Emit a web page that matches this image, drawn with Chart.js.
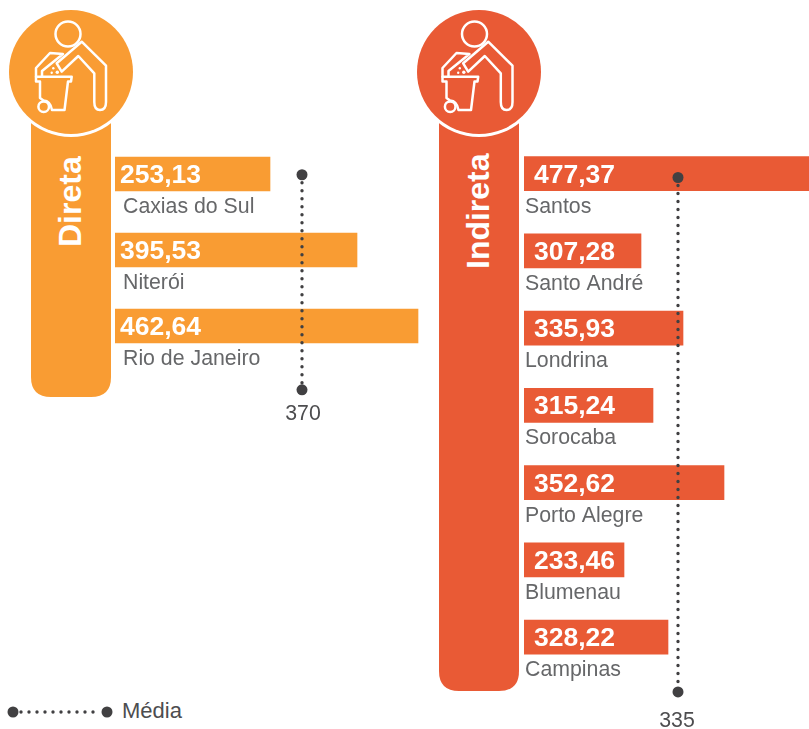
<!DOCTYPE html>
<html lang="pt">
<head>
<meta charset="utf-8">
<title>Média por cidade</title>
<script src="https://cdn.jsdelivr.net/npm/chart.js@4.4.0/dist/chart.umd.min.js"></script>
<style>
    html, body { margin: 0; padding: 0; background: #fff; overflow: hidden; }
    body { width: 809px; height: 729px; position: relative; font-family: "Liberation Sans", sans-serif; }
    .chart { position: absolute; }
    svg#fundo { position: absolute; left: 0; top: 0; }
</style>
</head>
<body>
<svg id="fundo" width="809" height="729" viewBox="0 0 809 729">
    <defs>
        <g id="icone" fill="none" stroke="#fff" stroke-width="2.5" stroke-linejoin="round" stroke-linecap="round">
            <circle cx="68" cy="34" r="12.5"/>
            <path d="M81.7 41.7 L106 65.7 V102 Q106 110 100 110 Q94.3 110 94.3 102 V73.3 L78.3 56 L61.7 71.7 L56.7 63.3 Z"/>
            <path d="M36 76.7 V68 L50 53 L63 54 L42 71 V76.7"/>
            <path d="M36 76.7 H71.7 L71 81.5 H68 L64.5 110 H52 Q50.5 101 43.5 100.5 L40 98 V81.5 H36 Z"/>
            <circle cx="43.7" cy="106.7" r="5.3"/>
            <g fill="#fff" stroke="none">
                <circle cx="53.3" cy="68.3" r="1.2"/>
                <circle cx="51.7" cy="72.7" r="1.2"/>
                <circle cx="57.3" cy="72.3" r="1.7"/>
            </g>
        </g>
    </defs>
    <path d="M31 120 H111 V377 Q111 397 91 397 H51 Q31 397 31 377 Z" fill="#f99c33"/>
    <circle cx="71" cy="72" r="65" fill="#fff"/>
    <circle cx="71" cy="72" r="62" fill="#f99c33"/>
    <use href="#icone"/>
    <text transform="translate(81 247) rotate(-90)" fill="#fff" font-size="32" font-weight="bold">Direta</text>

    <path d="M439 120 H519 V671 Q519 691 499 691 H459 Q439 691 439 671 Z" fill="#e95a35"/>
    <circle cx="479" cy="72" r="65" fill="#fff"/>
    <circle cx="479" cy="72" r="62" fill="#e95a35"/>
    <use href="#icone" x="406.5"/>
    <text transform="translate(489 269) rotate(-90)" fill="#fff" font-size="32" font-weight="bold">Indireta</text>

    <circle cx="13" cy="712" r="5.5" fill="#414042"/>
    <line x1="21" y1="712" x2="100" y2="712" stroke="#414042" stroke-width="3.4" stroke-linecap="round" stroke-dasharray="0 8"/>
    <circle cx="107" cy="712" r="5.5" fill="#414042"/>
    <text x="122" y="718" fill="#4d4d4f" font-size="22">Média</text>
</svg>
<div class="chart" style="left:115px;top:136px;width:320px;height:304px"><canvas id="chartDireta"></canvas></div>
<div class="chart" style="left:524px;top:135px;width:285px;height:618px"><canvas id="chartIndireta"></canvas></div>
<script>
// Rótulos e valores impressos na figura
const cidadesDireta = ['Caxias do Sul', 'Niterói', 'Rio de Janeiro'];
const rotulosDireta = ['253,13', '395,53', '462,64'];
const cidadesIndireta = ['Santos', 'Santo André', 'Londrina', 'Sorocaba', 'Porto Alegre', 'Blumenau', 'Campinas'];
const rotulosIndireta = ['477,37', '307,28', '335,93', '315,24', '352,62', '233,46', '328,22'];

// A figura não desenha as barras proporcionais aos rótulos,
// então estes são os comprimentos lidos da própria figura
const barrasDireta = [155, 242, 303];
const barrasIndireta = [285, 117, 159, 129, 200, 100, 144];

const mediaDireta = 187;
const mediaIndireta = 154;
const rotuloMediaDireta = '370';
const rotuloMediaIndireta = '335';
// início e fim da linha pontilhada, em linhas do eixo de categorias
const linhaMediaDireta = [0.01, 2.84];
const linhaMediaIndireta = [0.05, 6.71];

const corTexto = '#666769';
const corMedia = '#414042';

const rotulosPlugin = {
    id: 'rotulos',
    afterDatasetsDraw(chart, args, opts) {
        const ctx = chart.ctx;
        const barras = chart.getDatasetMeta(0).data;
        ctx.save();
        ctx.textBaseline = 'alphabetic';
        opts.cidades.forEach((cidade, i) => {
            const barra = barras[i];
            ctx.textAlign = 'left';
            ctx.fillStyle = '#fff';
            ctx.font = 'bold 26.5px "Liberation Sans"';
            ctx.fillText(opts.valores[i], barra.base + opts.recuoValor, barra.y + 9);
            ctx.fillStyle = corTexto;
            ctx.font = '21.3px "Liberation Sans"';
            ctx.fillText(cidade, barra.base + opts.recuoCidade, barra.y + 39);
        });
        // rótulo da média, abaixo do último ponto
        const pontos = chart.getDatasetMeta(1).data;
        const fim = pontos[pontos.length - 1];
        ctx.textAlign = 'center';
        ctx.fillStyle = '#4d4d4f';
        ctx.fillText(opts.media, fim.x + opts.ajusteMedia[0], fim.y + opts.ajusteMedia[1]);
        ctx.restore();
    }
};

function criarGrafico(id, cidades, valores, barras, media, linhaMedia, rotuloMedia, cor, maximo, recuos, ajusteMedia) {
    return new Chart(document.getElementById(id), {
        data: {
            // categoria vazia no fim para a linha da média caber na área do gráfico
            labels: [...cidades, ''],
            datasets: [
                {
                    type: 'bar',
                    data: barras,
                    backgroundColor: cor,
                    barThickness: 34,
                    grouped: false,
                    xAxisID: 'x',
                    yAxisID: 'y',
                    order: 2
                },
                {
                    type: 'scatter',
                    indexAxis: 'x',
                    data: linhaMedia.map(linha => ({ x: media, y: linha })),
                    showLine: true,
                    borderColor: corMedia,
                    borderWidth: 3.4,
                    borderDash: [0, 8],
                    borderCapStyle: 'round',
                    pointRadius: 5.5,
                    pointBackgroundColor: corMedia,
                    pointBorderWidth: 0,
                    xAxisID: 'x',
                    yAxisID: 'yMedia',
                    order: 1
                }
            ]
        },
        plugins: [rotulosPlugin],
        options: {
            indexAxis: 'y',
            responsive: true,
            maintainAspectRatio: false,
            animation: false,
            layout: { autoPadding: false, padding: 0 },
            plugins: {
                legend: { display: false },
                tooltip: { enabled: false },
                rotulos: { cidades: cidades, valores: valores, media: rotuloMedia, recuoValor: recuos[0], recuoCidade: recuos[1], ajusteMedia: ajusteMedia }
            },
            scales: {
                x: { type: 'linear', min: 0, max: maximo, display: false },
                y: { type: 'category', offset: true, display: false },
                yMedia: { type: 'linear', min: -0.5, max: cidades.length + 0.5, reverse: true, display: false }
            }
        }
    });
}

criarGrafico('chartDireta', cidadesDireta, rotulosDireta, barrasDireta, mediaDireta, linhaMediaDireta, rotuloMediaDireta, '#f99c33', 320, [5, 8], [1, 30]);
criarGrafico('chartIndireta', cidadesIndireta, rotulosIndireta, barrasIndireta, mediaIndireta, linhaMediaIndireta, rotuloMediaIndireta, '#e95a35', 285, [10, 1], [-1, 35]);
</script>
</body>
</html>
